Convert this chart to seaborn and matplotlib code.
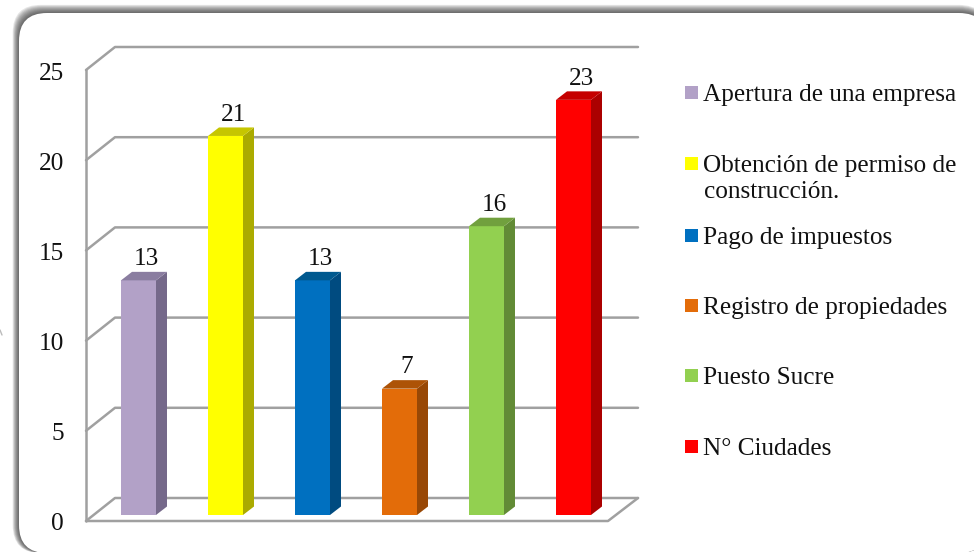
import matplotlib
matplotlib.use("Agg")
import matplotlib.pyplot as plt
from matplotlib.patches import FancyBboxPatch, Polygon, Rectangle
from matplotlib.transforms import Affine2D
import pandas as pd
import seaborn as sns

categories = ["Apertura de una empresa", "Obtención de permiso de\nconstrucción.", "Pago de impuestos",
              "Registro de propiedades", "Puesto Sucre", "N° Ciudades"]
values = [13, 21, 13, 7, 16, 23]
yticks = [0, 5, 10, 15, 20, 25]
front_colors = ["#B2A1C7", "#FFFF00", "#0070C0", "#E36C09", "#92D050", "#FF0000"]
side_colors = ["#75698A", "#ABAB00", "#004B80", "#984806", "#628B36", "#AB0000"]
top_colors = ["#8A7DA0", "#C6C600", "#00598F", "#AD5307", "#71A03E", "#C50000"]
legend_y = [92.5, 163, 235, 305, 375, 446]

W, H = 974, 552
sns.set_theme(style="white")
plt.rcParams["font.family"] = ["Liberation Serif", "DejaVu Serif"]
FS = 18.2
fig = plt.figure(figsize=(W / 100, H / 100), dpi=100, facecolor="white")


def axes_px(l, r, t, b, **kw):
    return fig.add_axes([l / W, 1 - b / H, (r - l) / W, (b - t) / H], **kw)


# page: rounded panel with soft shadow towards top and left
bg = fig.add_axes([0, 0, 1, 1], zorder=0)
bg.set_xlim(0, W)
bg.set_ylim(H, 0)
bg.axis("off")
PL, PT, PR, PB, RAD = 19, 13, 987, 553, 28
for i in range(9, 0, -1):
    bg.add_patch(FancyBboxPatch((PL - i * 0.7, PT - i * 0.9), PR - PL + i * 0.7, PB - PT + i * 0.9,
                                boxstyle=f"round,pad=0,rounding_size={RAD}",
                                fc="#303030", ec="none", alpha=0.12))
bg.add_patch(FancyBboxPatch((PL, PT), PR - PL, PB - PT, boxstyle=f"round,pad=0,rounding_size={RAD}",
                            fc="white", ec="none"))
bg.plot([0, 2], [330, 335], color="#bbbbbb", lw=1)

# 3-D frame: ticks live on the front plane
frame = axes_px(86, 608, 70, 521, zorder=1)
frame.patch.set_alpha(0)
frame.set_xlim(0, 522)
frame.set_ylim(0, 25)
frame.set_xticks([])
frame.set_yticks(yticks)
frame.set_yticklabels([str(t) for t in yticks], fontsize=FS, color="#111111")
frame.tick_params(axis="y", length=0, pad=15.8)
for lbl in frame.get_yticklabels():
    lbl.set_transform(lbl.get_transform() + Affine2D().translate(0, -1))
for s in frame.spines.values():
    s.set_visible(False)
DX, DY = 29, 23 / 18.04
GRID = "#a0a0a0"
for t in yticks:
    frame.plot([0, DX, 552], [t, t + DY, t + DY], color=GRID, lw=1.8, clip_on=False, zorder=1)
frame.plot([0, 0], [0, 25], color=GRID, lw=1.8, clip_on=False)
frame.plot([0, 522, 552], [0, 0, DY], color=GRID, lw=1.8, clip_on=False)

# bars: baseline sits between front and back planes
ax = axes_px(95, 617, 70, 515, zorder=2)
ax.patch.set_alpha(0)
unit = 18.05
df = pd.DataFrame({"categoria": categories, "valor": values})
sns.barplot(data=df, x="categoria", y="valor", hue="categoria", order=categories, hue_order=categories,
            palette=front_colors, width=35 / 87, dodge=False, legend=False, saturation=1, ax=ax,
            linewidth=0, zorder=3)
ax.set_xlim((95 - 138.5) / 87, (617 - 138.5) / 87)
ax.set_ylim(0, (515 - 70) / unit)
ax.axis("off")
dx, dy = 11 / 87, 8.5 / unit
hw = 17.5 / 87
for i, v in enumerate(values):
    ax.add_patch(Polygon([(i + hw, 0), (i + hw + dx, dy), (i + hw + dx, v + dy), (i + hw, v)],
                         fc=side_colors[i], ec="none", zorder=3, clip_on=False))
    ax.add_patch(Polygon([(i - hw, v), (i + hw, v), (i + hw + dx, v + dy), (i - hw + dx, v + dy)],
                         fc=top_colors[i], ec="none", zorder=3, clip_on=False))
    ax.text(i + 7.5 / 87, v + dy + 0.1, str(v), ha="center", va="bottom", fontsize=FS, color="#111111",
            clip_on=False)

# legend drawn on the page axes
for lab, col, y in zip(categories, front_colors, legend_y):
    bg.add_patch(Rectangle((685, y - 6.5), 13, 13, fc=col, ec="none"))
    for k, line in enumerate(lab.split("\n")):
        bg.text(703 + k, y + 9 + k * 26, line, fontsize=FS, va="baseline", ha="left", color="#111111")

fig.savefig("out.png", dpi=100, facecolor="white")
